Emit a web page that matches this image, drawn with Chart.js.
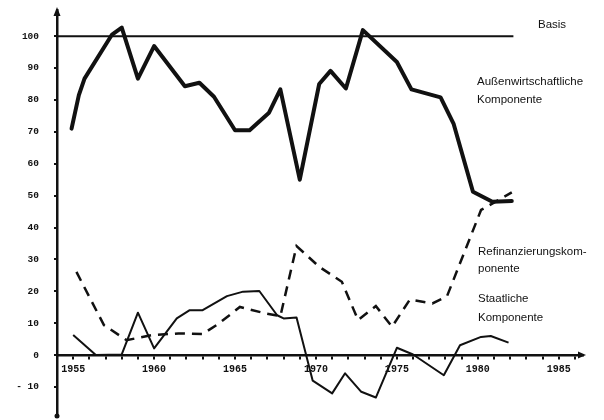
<!DOCTYPE html>
<html>
<head>
<meta charset="utf-8">
<script src="https://cdn.jsdelivr.net/npm/chart.js@4"></script>
<style>
  body { margin: 0; background: #fff; }
</style>
</head>
<body>
<canvas id="chart" width="604" height="420"></canvas>
<script>
// Values (Basis = 100)
const aussenYears  = [1954.9, 1955.35, 1955.7, 1957.4, 1958.0, 1959.0, 1960.0, 1961.9, 1962.8, 1963.7, 1965.0, 1965.9, 1967.1, 1967.8, 1969.0, 1970.2, 1970.9, 1971.85, 1972.9, 1975.0, 1975.9, 1977.7, 1978.5, 1979.7, 1980.9, 1982.1];
const aussenValues = [71, 81.5, 86.7, 100.5, 102.7, 86.7, 96.9, 84.3, 85.4, 81, 70.5, 70.5, 76, 83.3, 55, 85, 89.1, 83.6, 101.9, 91.9, 83.3, 80.8, 72.6, 51.2, 48.1, 48.3];

const refiYears  = [1955.2, 1956.9, 1958.3, 1959.9, 1961.5, 1963.0, 1964.0, 1965.3, 1966.95, 1967.8, 1968.8, 1970.2, 1971.6, 1972.6, 1973.7, 1974.7, 1975.8, 1977.2, 1978.1, 1980.2, 1982.1];
const refiValues = [26.1, 9.4, 4.7, 6.3, 6.8, 6.6, 9.9, 15.1, 13.0, 12.2, 34.2, 27.7, 23, 11, 15.4, 8.9, 17.4, 16.2, 18.5, 45.5, 51];

const staatYears  = [1955.0, 1956.4, 1958.0, 1959.0, 1960.0, 1961.4, 1962.2, 1963.0, 1964.5, 1965.5, 1966.5, 1967.6, 1968.0, 1968.8, 1969.8, 1971.0, 1971.8, 1972.8, 1973.7, 1975.0, 1976.0, 1977.9, 1978.9, 1980.2, 1980.8, 1981.9];
const staatValues = [6.3, 0, 0.2, 13.3, 2.1, 11.5, 14.1, 14.1, 18.5, 19.9, 20.1, 12.5, 11.5, 11.8, -8, -12, -5.7, -11.5, -13.3, 2.3, 0.2, -6.3, 3.1, 5.7, 6.0, 3.9];

const basisYears  = [1954, 1982.2];
const basisValues = [100, 100];

const yTicks = [-10, 0, 10, 20, 30, 40, 50, 60, 70, 80, 90, 100];
const xLabelYears = [1955, 1960, 1965, 1970, 1975, 1980, 1985];

function points(xs, ys) {
  return xs.map((x, i) => ({x: x, y: ys[i]}));
}

// arrows at the axis ends and the text labels beside the curves
const decorations = {
  id: 'decorations',
  afterDraw(chart) {
    const ctx = chart.ctx;
    const area = chart.chartArea;
    const y0 = chart.scales.y.getPixelForValue(0);
    ctx.save();
    ctx.fillStyle = '#111';
    // y axis arrow
    ctx.beginPath();
    ctx.moveTo(area.left, area.top - 3);
    ctx.lineTo(area.left - 3.5, area.top + 6);
    ctx.lineTo(area.left + 3.5, area.top + 6);
    ctx.closePath();
    ctx.fill();
    // x axis arrow
    ctx.beginPath();
    ctx.moveTo(area.right + 3, y0);
    ctx.lineTo(area.right - 5, y0 - 3.5);
    ctx.lineTo(area.right - 5, y0 + 3.5);
    ctx.closePath();
    ctx.fill();
    // dot at the bottom of the y axis
    ctx.beginPath();
    ctx.arc(area.left, area.bottom - 1, 2.5, 0, Math.PI * 2);
    ctx.fill();

    ctx.font = '11.5px "Liberation Sans", Arial, sans-serif';
    ctx.textBaseline = 'middle';
    ctx.fillText('Basis', 538, 25);
    ctx.fillText('Außenwirtschaftliche', 477, 82);
    ctx.fillText('Komponente', 477, 100);
    ctx.fillText('Refinanzierungskom-', 478, 252);
    ctx.fillText('ponente', 478, 269);
    ctx.fillText('Staatliche', 478, 299);
    ctx.fillText('Komponente', 478, 318);
    ctx.restore();
  }
};

const ctx = document.getElementById('chart');
const chart = new Chart(ctx, {
  type: 'line',
  data: {
    datasets: [
      { // Basis
        data: points(basisYears, basisValues),
        borderColor: '#111', borderWidth: 2, pointRadius: 0
      },
      { // Außenwirtschaftliche Komponente
        data: points(aussenYears, aussenValues),
        borderColor: '#111', borderWidth: 4, pointRadius: 0,
        borderJoinStyle: 'round', borderCapStyle: 'round'
      },
      { // Refinanzierungskomponente
        data: points(refiYears, refiValues),
        borderColor: '#111', borderWidth: 2.5, pointRadius: 0,
        borderDash: [10, 7]
      },
      { // Staatliche Komponente
        data: points(staatYears, staatValues),
        borderColor: '#111', borderWidth: 2, pointRadius: 0,
        borderJoinStyle: 'round'
      }
    ]
  },
  options: {
    responsive: false,
    animation: false,
    devicePixelRatio: 1,
    layout: { padding: { top: 10, right: 21, bottom: 3, left: 0 } },
    plugins: {
      legend: { display: false },
      tooltip: { enabled: false }
    },
    scales: {
      x: {
        type: 'linear',
        position: { y: 0 },
        min: 1954.0,
        max: 1986.5,
        afterBuildTicks(scale) {
          const ticks = [];
          for (let yr = 1955; yr <= 1986; yr++) ticks.push({value: yr});
          scale.ticks = ticks;
        },
        afterFit(scale) {
          scale.height = 0;
          scale.paddingTop = 0;
          scale.paddingBottom = 0;
        },
        ticks: {
          autoSkip: false,
          maxRotation: 0,
          padding: 5,
          color: '#111',
          font: { family: '"Liberation Mono", monospace', size: 10, weight: 'bold' },
          callback: (v) => xLabelYears.includes(v) ? String(v) : ''
        },
        grid: { drawOnChartArea: false, drawTicks: true, tickLength: 3, color: '#111', lineWidth: 2 },
        border: { display: true, color: '#111', width: 2.5 }
      },
      y: {
        min: -19.4,
        max: 108.2,
        afterBuildTicks(scale) {
          scale.ticks = yTicks.map(v => ({value: v}));
        },
        afterFit(scale) {
          scale.width = 57;
          scale.paddingTop = 0;
          scale.paddingBottom = 0;
        },
        ticks: {
          padding: 15,
          color: '#111',
          font: { family: '"Liberation Mono", monospace', size: 9.5, weight: 'bold' },
          callback: (v) => v < 0 ? '- ' + Math.abs(v) : String(v)
        },
        grid: { drawOnChartArea: false, drawTicks: true, tickLength: 3, color: '#111', lineWidth: 2 },
        border: { display: true, color: '#111', width: 2.5 }
      }
    }
  },
  plugins: [decorations]
});
</script>
</body>
</html>
